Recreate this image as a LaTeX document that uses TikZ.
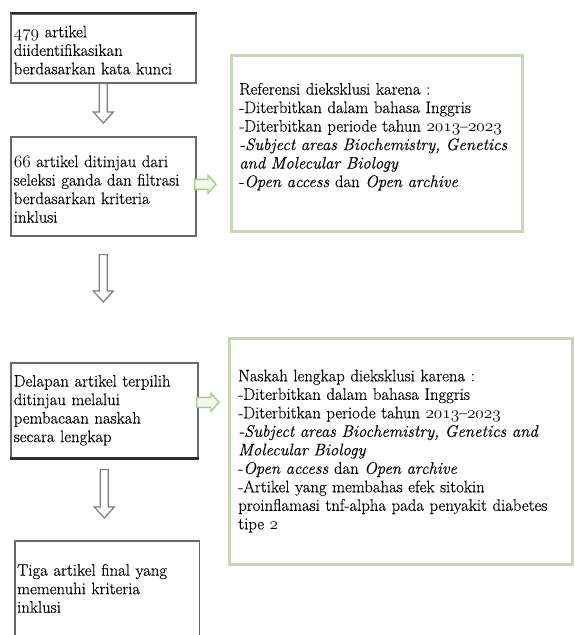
\documentclass[tikz,border=0pt]{standalone}
\usepackage{fontspec}
\setmainfont{Latin Modern Roman}[FakeBold=0.35]
\usetikzlibrary{calc}
\newcommand\osn[1]{$\mathnormal{#1}$}
\newcommand\boxlines[2]{\noindent\raisebox{#1}[\height][\depth]{\begin{tabular}{@{}l@{}}#2\end{tabular}}}
\newcommand\vblockarrow[3]{%
  \draw[#1] ($(#2)+(-4,0)$) -- ($(#3)+(-4,-11)$) -- ($(#3)+(-10,-11)$) -- (#3)
    -- ($(#3)+(10,-11)$) -- ($(#3)+(4,-11)$) -- ($(#2)+(4,0)$) -- cycle;}
\newcommand\hblockarrow[3]{%
  \draw[#1] ($(#2)+(0,-5)$) -- ($(#3)+(-8,-5)$) -- ($(#3)+(-8,-9)$) -- (#3)
    -- ($(#3)+(-8,9)$) -- ($(#3)+(-8,5)$) -- ($(#2)+(0,5)$) -- cycle;}
\definecolor{boxgray}{RGB}{105,105,105}
\definecolor{boxdark}{RGB}{45,45,45}
\definecolor{boxgreen}{RGB}{198,216,182}
\definecolor{arrgray}{RGB}{125,125,125}
\definecolor{arrgreen}{RGB}{168,202,138}
\definecolor{arrgreenfill}{RGB}{244,249,238}
\tikzset{
  base/.style={font=\fontsize{16.7}{18.5}\selectfont, anchor=north west, align=left, inner ysep=0pt},
  graybox/.style={base, draw=boxgray, line width=1.6pt, inner xsep=3pt},
  openbox/.style={base, inner xsep=2pt},
  grayline/.style={draw=boxgray, line width=1.6pt},
  greenbox/.style={base, draw=boxgreen, line width=2.6pt, inner xsep=8pt},
  varrow/.style={draw=arrgray, fill=white, line width=1.2pt},
  garrow/.style={draw=arrgreen, fill=arrgreenfill, line width=1.4pt},
}
\begin{document}
\begin{tikzpicture}[x=1pt,y=-1pt]
\useasboundingbox (0,0) rectangle (574,635);

\node[graybox, text width=179pt, minimum width=185pt, minimum height=69pt] (b1) at (10,13)
  {\boxlines{-3.8pt}{\osn{479} artikel\\ diidentifikasikan\\ berdasarkan kata kunci}};
\node[graybox, text width=179pt, minimum width=185pt, minimum height=99pt] (b2) at (10,136)
  {\boxlines{-4.8pt}{\osn{66} artikel ditinjau dari\\ seleksi ganda dan filtrasi\\ berdasarkan kriteria\\ inklusi}};
\node[graybox, text width=181pt, minimum width=187pt, minimum height=95pt] (b3) at (10,362)
  {\boxlines{-0.3pt}{Delapan artikel terpilih\\ ditinjau melalui\\ pembacaan naskah\\ secara lengkap}};
\node[openbox, text width=180pt, minimum width=184pt, minimum height=94pt] (b4) at (15,541)
  {\boxlines{-2.3pt}{Tiga artikel final yang\\ memenuhi kriteria\\ inklusi}};
\draw[grayline] (b4.south west) -- (b4.north west) -- (b4.north east) -- (b4.south east);

\node[greenbox, text width=275pt, minimum width=291pt, minimum height=176pt] (g1) at (230,54)
  {\boxlines{6.2pt}{Referensi dieksklusi karena :\\
   -Diterbitkan dalam bahasa Inggris\\
   -Diterbitkan periode tahun \osn{2013}--\osn{2023}\\
   \textit{-Subject areas Biochemistry, Genetics}\\
   \textit{and Molecular Biology}\\
   -\textit{Open access} dan \textit{Open archive}}};
\node[greenbox, text width=325pt, minimum width=343pt, minimum height=226pt, inner xsep=9pt] (g2) at (228,337)
  {\boxlines{-0.3pt}{Naskah lengkap dieksklusi karena :\\
   -Diterbitkan dalam bahasa Inggris\\
   -Diterbitkan periode tahun \osn{2013}--\osn{2023}\\
   \textit{-Subject areas Biochemistry, Genetics and}\\
   \textit{Molecular Biology}\\
   -\textit{Open access} dan \textit{Open archive}\\
   -Artikel yang membahas efek sitokin\\
   proinflamasi tnf-alpha pada penyakit diabetes\\
   tipe \osn{2}}};

% emphasised borders
\draw[boxdark, line width=2.6pt] (b1.north west) -- (b1.north east);
\draw[boxdark, line width=2.4pt] (b3.south west) -- (b3.south east);

% connectors
\coordinate (s1) at (b1.south);
\coordinate (t1) at ($(s1 |- b2.north)+(0,-13)$);
\coordinate (s2) at ($(b2.south)+(0,18)$);
\coordinate (t2) at ($(s2 |- b3.north)+(0,-60)$);
\coordinate (s3) at ($(b3.south)+(0,11)$);
\coordinate (t3) at ($(s3 |- b4.north)+(0,-23)$);
\coordinate (s4) at ($(b2.east)+(-2,-2)$);
\coordinate (t4) at ($(s4 -| g1.west)+(-14,0)$);
\coordinate (s5) at ($(b3.east)+(-2,-8)$);
\coordinate (t5) at ($(s5 -| g2.west)+(-9,0)$);

\vblockarrow{varrow}{s1}{t1}
\vblockarrow{varrow}{s2}{t2}
\vblockarrow{varrow}{s3}{t3}
\hblockarrow{garrow}{s4}{t4}
\hblockarrow{garrow}{s5}{t5}
\end{tikzpicture}
\end{document}
